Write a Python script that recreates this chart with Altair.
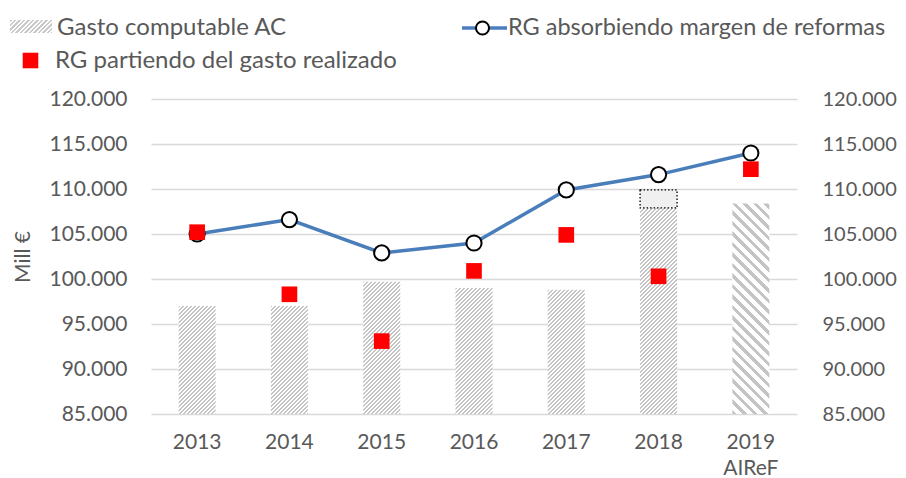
import math
import altair as alt
import pandas as pd

# ---------------- data ----------------
years = ["2013", "2014", "2015", "2016", "2017", "2018", "2019"]
gasto_ac = [97000, 97000, 99700, 99000, 98800, 107900, 108400]
rg_reformas = [105000, 106600, 102900, 104000, 109900, 111600, 114000]
rg_realizado = [105200, 98300, 93100, 100900, 104900, 100300, 112200]
margen_year = ["2018"]
margen_low = [107900]
margen_high = [109900]
y_ticks = [85000, 90000, 95000, 100000, 105000, 110000, 115000, 120000]
legend_labels = ["Gasto computable AC", "RG absorbiendo margen de reformas",
                 "RG partiendo del gasto realizado"]

# ---------------- layout / style ----------------
W, H = 646, 315
YMIN, YMAX = 85000, 120000
BAR = 37
FONT = "Lato"
TXT = "#595959"
LINE_C = "#4a7ebb"


def hatch(w, h, period, dark, color, direction="/"):
    """linear gradient giving diagonal stripes inside a w x h box"""
    L = w + h
    s = L / (w * w + h * h)
    if direction == "/":
        x1, y1, x2, y2 = 0, 0, w * s, h * s
    else:
        x1, y1, x2, y2 = 0, 1, w * s, 1 - h * s
    n = L / period
    stops = []
    i = 0
    while i / n < 1:
        a = i / n
        b = min((i + dark) / n, 1)
        c = min((i + 1) / n, 1)
        stops += [{"offset": a, "color": color}, {"offset": b, "color": color},
                  {"offset": b, "color": "#ffffff"}, {"offset": c, "color": "#ffffff"}]
        i += 1
    return {"gradient": "linear", "x1": x1, "y1": y1, "x2": x2, "y2": y2, "stops": stops}


df = pd.DataFrame({"year": years, "gasto": gasto_ac, "reformas": rg_reformas,
                   "realizado": rg_realizado})
df["base"] = YMIN
dm = pd.DataFrame({"year": margen_year, "low": margen_low, "high": margen_high})
one = pd.DataFrame({"k": [0]})

x_axis = alt.Axis(title=None, labelExpr="datum.value == '2019' ? ['2019', 'AIReF'] : datum.label",
                  labelFontSize=21, labelColor=TXT, labelPadding=17, domain=False, ticks=False,
                  labelLineHeight=26, labelAngle=0, grid=False, labelFont=FONT)
x_enc = alt.X("year:N", sort=years,
              scale=alt.Scale(domain=years, paddingInner=0, paddingOuter=0), axis=x_axis)

y_scale = alt.Scale(domain=[YMIN, YMAX], zero=False, nice=False)
label_expr = "replace(format(datum.value, ','), ',', '.')"
left_axis = alt.Axis(values=y_ticks, labelExpr=label_expr, gridColor="#d9d9d9", gridWidth=1.5,
                     grid=True, domain=False, ticks=False, labelFontSize=21, labelColor=TXT,
                     labelPadding=24, title="Mill €", titleFontSize=21, titleFontWeight="normal",
                     titleColor=TXT, titlePadding=15, labelFont=FONT, titleFont=FONT)
right_axis = alt.Axis(values=y_ticks, labelExpr=label_expr, grid=False, domain=False, ticks=False,
                      labelFontSize=20, labelColor=TXT, labelPadding=25, title=None,
                      orient="right", labelFont=FONT)


def Y(field):
    return alt.Y(field, scale=y_scale, axis=left_axis, title="Mill €")


layers = []
# hatched bars, one per year
for i, yr in enumerate(years):
    h = (gasto_ac[i] - YMIN) / (YMAX - YMIN) * H
    if yr == "2019":
        g = hatch(BAR, h, 10.5, 0.4, "#c4c4c4", "\\")
    else:
        g = hatch(BAR, h, 4.0, 0.5, "#c4c4c4", "/")
    layers.append(
        alt.Chart(df).transform_filter(alt.datum.year == yr)
        .mark_bar(size=BAR, fill=g, strokeWidth=0)
        .encode(x=x_enc, y=Y("gasto:Q"), y2="base:Q")
    )

# dotted box 2018
layers.append(
    alt.Chart(dm).mark_bar(size=BAR, fill="#f0f0f0", stroke="#000000", strokeDash=[1.5, 2],
                           strokeWidth=1.3)
    .encode(x=x_enc, y=Y("high:Q"), y2="low:Q")
)
# line + circles
layers.append(alt.Chart(df).mark_line(color=LINE_C, strokeWidth=3.5)
              .encode(x=x_enc, y=Y("reformas:Q")))
layers.append(alt.Chart(df).mark_point(shape="circle", filled=True, fill="#ffffff",
                                       stroke="#000000", strokeWidth=2, size=230, opacity=1)
              .encode(x=x_enc, y=Y("reformas:Q")))
# red squares
layers.append(alt.Chart(df).mark_square(color="#ff0000", size=245, opacity=1)
              .encode(x=x_enc, y=Y("realizado:Q")))

# ---- custom legend (positions relative to plot origin) ----
sw = hatch(42, 13, 4.5, 0.5, "#cacaca", "/")
layers.append(alt.Chart(one).mark_rect(fill=sw, strokeWidth=0)
              .encode(x=alt.value(-141), x2=alt.value(-99), y=alt.value(-79), y2=alt.value(-66)))
layers.append(alt.Chart(one).mark_text(align="left", baseline="alphabetic", font=FONT,
                                       fontSize=24, color=TXT)
              .encode(x=alt.value(-94), y=alt.value(-64), text=alt.value(legend_labels[0])))
layers.append(alt.Chart(one).mark_rule(color=LINE_C, strokeWidth=3.5)
              .encode(x=alt.value(311), x2=alt.value(356), y=alt.value(-71)))
layers.append(alt.Chart(one).mark_point(shape="circle", filled=True, fill="#ffffff",
                                        stroke="#000000", strokeWidth=2, size=170, opacity=1)
              .encode(x=alt.value(331.5), y=alt.value(-71)))
layers.append(alt.Chart(one).mark_text(align="left", baseline="alphabetic", font=FONT,
                                       fontSize=23.5, color=TXT)
              .encode(x=alt.value(357), y=alt.value(-64), text=alt.value(legend_labels[1])))
layers.append(alt.Chart(one).mark_square(color="#ff0000", size=243, opacity=1)
              .encode(x=alt.value(-120.5), y=alt.value(-38.5)))
layers.append(alt.Chart(one).mark_text(align="left", baseline="alphabetic", font=FONT,
                                       fontSize=24, color=TXT)
              .encode(x=alt.value(-96), y=alt.value(-31), text=alt.value(legend_labels[2])))

main = alt.layer(*layers)

right = alt.Chart(df).mark_point(opacity=0).encode(
    y=alt.Y("gasto:Q", scale=y_scale, axis=right_axis))

chart = (
    alt.layer(main, right)
    .resolve_scale(y="independent")
    .properties(width=W, height=H, autosize=alt.AutoSizeParams(type="none"),
                padding={"left": 143, "top": 91, "right": 101, "bottom": 64})
    .configure_view(stroke=None)
    .configure_axis(labelFont=FONT, titleFont=FONT)
)

chart.save("out.html", embed_options={"renderer": "svg", "actions": False})
